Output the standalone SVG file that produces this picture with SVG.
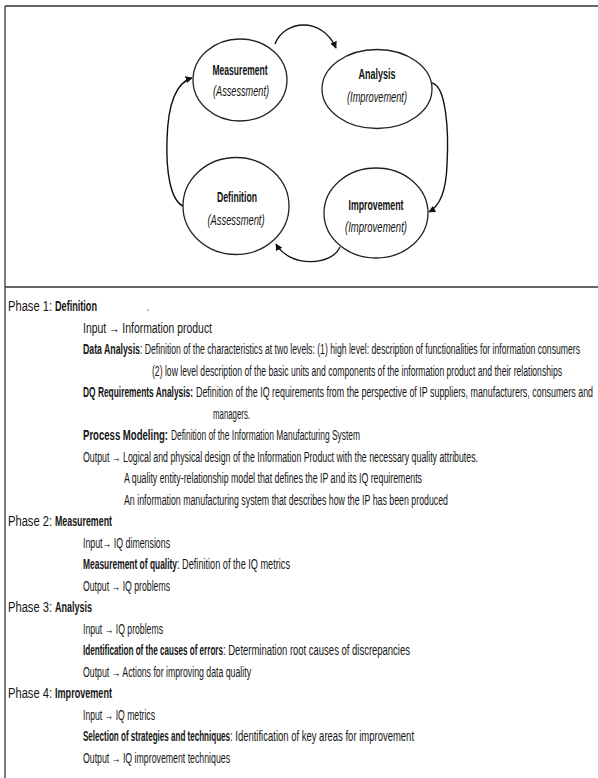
<svg xmlns="http://www.w3.org/2000/svg" width="598" height="778" viewBox="0 0 598 778">
<defs>
<marker id="ah" viewBox="0 0 10 10" refX="9" refY="5" markerWidth="7" markerHeight="7" markerUnits="userSpaceOnUse" orient="auto">
<path d="M0,0 L10,5 L0,10 z" fill="#111"/>
</marker>
<style>
.frame{stroke:#333;stroke-width:1.3;fill:none}
.node{fill:#fff;stroke:#222;stroke-width:1.3}
.nt{font-family:"Liberation Sans",Arial,sans-serif;font-size:14px;fill:#111;text-anchor:middle}
.b{font-weight:bold}
.i{font-style:italic}
.conn{fill:none;stroke:#111;stroke-width:1.4}
.tx{font-family:"Liberation Sans",Arial,sans-serif;font-size:14px;fill:#151515}
</style>
</defs>
<rect width="598" height="778" fill="#fff"/>
<g id="frame">
<line class="frame" x1="5" y1="6" x2="598" y2="6"/>
<line class="frame" x1="5" y1="6" x2="5" y2="778"/>
<line class="frame" x1="5" y1="287" x2="598" y2="287" stroke-width="1.8"/>
</g>
<g id="connectors">
<path class="conn" stroke-width="1.8" d="M275,44 C284,20 322,16 336,48" marker-end="url(#ah)"/>
<path class="conn" d="M432,83 C446,86 449,130 447,165 C446,195 438,207 429,212" marker-end="url(#ah)"/>
<path class="conn" stroke-width="1.8" d="M340,247 C332,266 290,268 276,244" marker-end="url(#ah)"/>
<path class="conn" d="M183,206 C170,200 166,170 167,140 C168,100 178,82 192,78" marker-end="url(#ah)"/>
</g>
<g id="node-measurement">
<ellipse class="node" cx="240" cy="80" rx="47" ry="41"/>
<text class="nt b" transform="translate(240 75) scale(0.6 1)" textLength="91.7" lengthAdjust="spacingAndGlyphs">Measurement</text>
<text class="nt i" transform="translate(241 96) scale(0.6 1)" textLength="93.3" lengthAdjust="spacingAndGlyphs">(Assessment)</text>
</g>
<g id="node-analysis">
<ellipse class="node" cx="377" cy="89" rx="55" ry="39.5"/>
<text class="nt b" transform="translate(377 79) scale(0.6 1)" textLength="61.7" lengthAdjust="spacingAndGlyphs">Analysis</text>
<text class="nt i" transform="translate(377 102) scale(0.6 1)" textLength="100" lengthAdjust="spacingAndGlyphs">(Improvement)</text>
</g>
<g id="node-definition">
<ellipse class="node" cx="236" cy="206" rx="53" ry="48.5"/>
<text class="nt b" transform="translate(237 202) scale(0.6 1)" textLength="66.7" lengthAdjust="spacingAndGlyphs">Definition</text>
<text class="nt i" transform="translate(236 225) scale(0.6 1)" textLength="95" lengthAdjust="spacingAndGlyphs">(Assessment)</text>
</g>
<g id="node-improvement">
<ellipse class="node" cx="376" cy="213" rx="52" ry="45"/>
<text class="nt b" transform="translate(376 210) scale(0.6 1)" textLength="91.7" lengthAdjust="spacingAndGlyphs">Improvement</text>
<text class="nt i" transform="translate(376 232) scale(0.6 1)" textLength="103.3" lengthAdjust="spacingAndGlyphs">(Improvement)</text>
</g>
<g id="phases">
<text class="tx" transform="translate(8 311) scale(0.53 1)" textLength="83" lengthAdjust="spacingAndGlyphs">Phase 1:</text>
<text class="tx b" transform="translate(55 311) scale(0.53 1)" textLength="79.2" lengthAdjust="spacingAndGlyphs">Definition</text>
<text class="tx" transform="translate(147 311) scale(0.53 1)">.</text>
<text class="tx" transform="translate(83 332.5) scale(0.53 1)" textLength="243.4" lengthAdjust="spacingAndGlyphs">Input → Information product</text>
<text class="tx b" transform="translate(83 354) scale(0.53 1)" textLength="107.5" lengthAdjust="spacingAndGlyphs">Data Analysis</text>
<text class="tx" transform="translate(140 354) scale(0.53 1)" textLength="830.2" lengthAdjust="spacingAndGlyphs">: Definition of the characteristics at two levels: (1) high level: description of functionalities for information consumers</text>
<text class="tx" transform="translate(152 375.5) scale(0.53 1)" textLength="773.6" lengthAdjust="spacingAndGlyphs">(2) low level description of the basic units and components of the information product and their relationships</text>
<text class="tx b" transform="translate(83 397) scale(0.53 1)" textLength="207.5" lengthAdjust="spacingAndGlyphs">DQ Requirements Analysis:</text>
<text class="tx" transform="translate(196 397) scale(0.53 1)" textLength="749.1" lengthAdjust="spacingAndGlyphs">Definition of the IQ requirements from the perspective of IP suppliers, manufacturers, consumers and</text>
<text class="tx" transform="translate(213 418.5) scale(0.53 1)" textLength="69.8" lengthAdjust="spacingAndGlyphs">managers.</text>
<text class="tx b" transform="translate(83 440) scale(0.53 1)" textLength="160.4" lengthAdjust="spacingAndGlyphs">Process Modeling:</text>
<text class="tx" transform="translate(171 440) scale(0.53 1)" textLength="356.6" lengthAdjust="spacingAndGlyphs">Definition of the Information Manufacturing System</text>
<text class="tx" transform="translate(83 461.5) scale(0.53 1)" textLength="745.3" lengthAdjust="spacingAndGlyphs">Output → Logical and physical design of the Information Product with the necessary quality attributes.</text>
<text class="tx" transform="translate(124 483) scale(0.53 1)" textLength="562.3" lengthAdjust="spacingAndGlyphs">A quality entity-relationship model that defines the IP and its IQ requirements</text>
<text class="tx" transform="translate(124 504.5) scale(0.53 1)" textLength="611.3" lengthAdjust="spacingAndGlyphs">An information manufacturing system that describes how the IP has been produced</text>
<text class="tx" transform="translate(8 526) scale(0.53 1)" textLength="83" lengthAdjust="spacingAndGlyphs">Phase 2:</text>
<text class="tx b" transform="translate(55 526) scale(0.53 1)" textLength="107.5" lengthAdjust="spacingAndGlyphs">Measurement</text>
<text class="tx" transform="translate(83 547.5) scale(0.53 1)" textLength="164.2" lengthAdjust="spacingAndGlyphs">Input→ IQ dimensions</text>
<text class="tx b" transform="translate(83 569) scale(0.53 1)" textLength="177.4" lengthAdjust="spacingAndGlyphs">Measurement of quality</text>
<text class="tx" transform="translate(177 569) scale(0.53 1)" textLength="213.2" lengthAdjust="spacingAndGlyphs">: Definition of the IQ metrics</text>
<text class="tx" transform="translate(83 590.5) scale(0.53 1)" textLength="164.2" lengthAdjust="spacingAndGlyphs">Output → IQ problems</text>
<text class="tx" transform="translate(8 612) scale(0.53 1)" textLength="83" lengthAdjust="spacingAndGlyphs">Phase 3:</text>
<text class="tx b" transform="translate(55 612) scale(0.53 1)" textLength="69.8" lengthAdjust="spacingAndGlyphs">Analysis</text>
<text class="tx" transform="translate(83 633.5) scale(0.53 1)" textLength="150.9" lengthAdjust="spacingAndGlyphs">Input → IQ problems</text>
<text class="tx b" transform="translate(83 655) scale(0.53 1)" textLength="264.2" lengthAdjust="spacingAndGlyphs">Identification of the causes of errors</text>
<text class="tx" transform="translate(223 655) scale(0.53 1)" textLength="352.8" lengthAdjust="spacingAndGlyphs">: Determination root causes of discrepancies</text>
<text class="tx" transform="translate(83 676.5) scale(0.53 1)" textLength="317" lengthAdjust="spacingAndGlyphs">Output → Actions for improving data quality</text>
<text class="tx" transform="translate(8 698) scale(0.53 1)" textLength="83" lengthAdjust="spacingAndGlyphs">Phase 4:</text>
<text class="tx b" transform="translate(55 698) scale(0.53 1)" textLength="107.5" lengthAdjust="spacingAndGlyphs">Improvement</text>
<text class="tx" transform="translate(83 719.5) scale(0.53 1)" textLength="135.8" lengthAdjust="spacingAndGlyphs">Input → IQ metrics</text>
<text class="tx b" transform="translate(83 741) scale(0.53 1)" textLength="277.4" lengthAdjust="spacingAndGlyphs">Selection of strategies and techniques</text>
<text class="tx" transform="translate(230 741) scale(0.53 1)" textLength="347.2" lengthAdjust="spacingAndGlyphs">: Identification of key areas for improvement</text>
<text class="tx" transform="translate(83 762.5) scale(0.53 1)" textLength="277.4" lengthAdjust="spacingAndGlyphs">Output → IQ improvement techniques</text>
</g>
</svg>
